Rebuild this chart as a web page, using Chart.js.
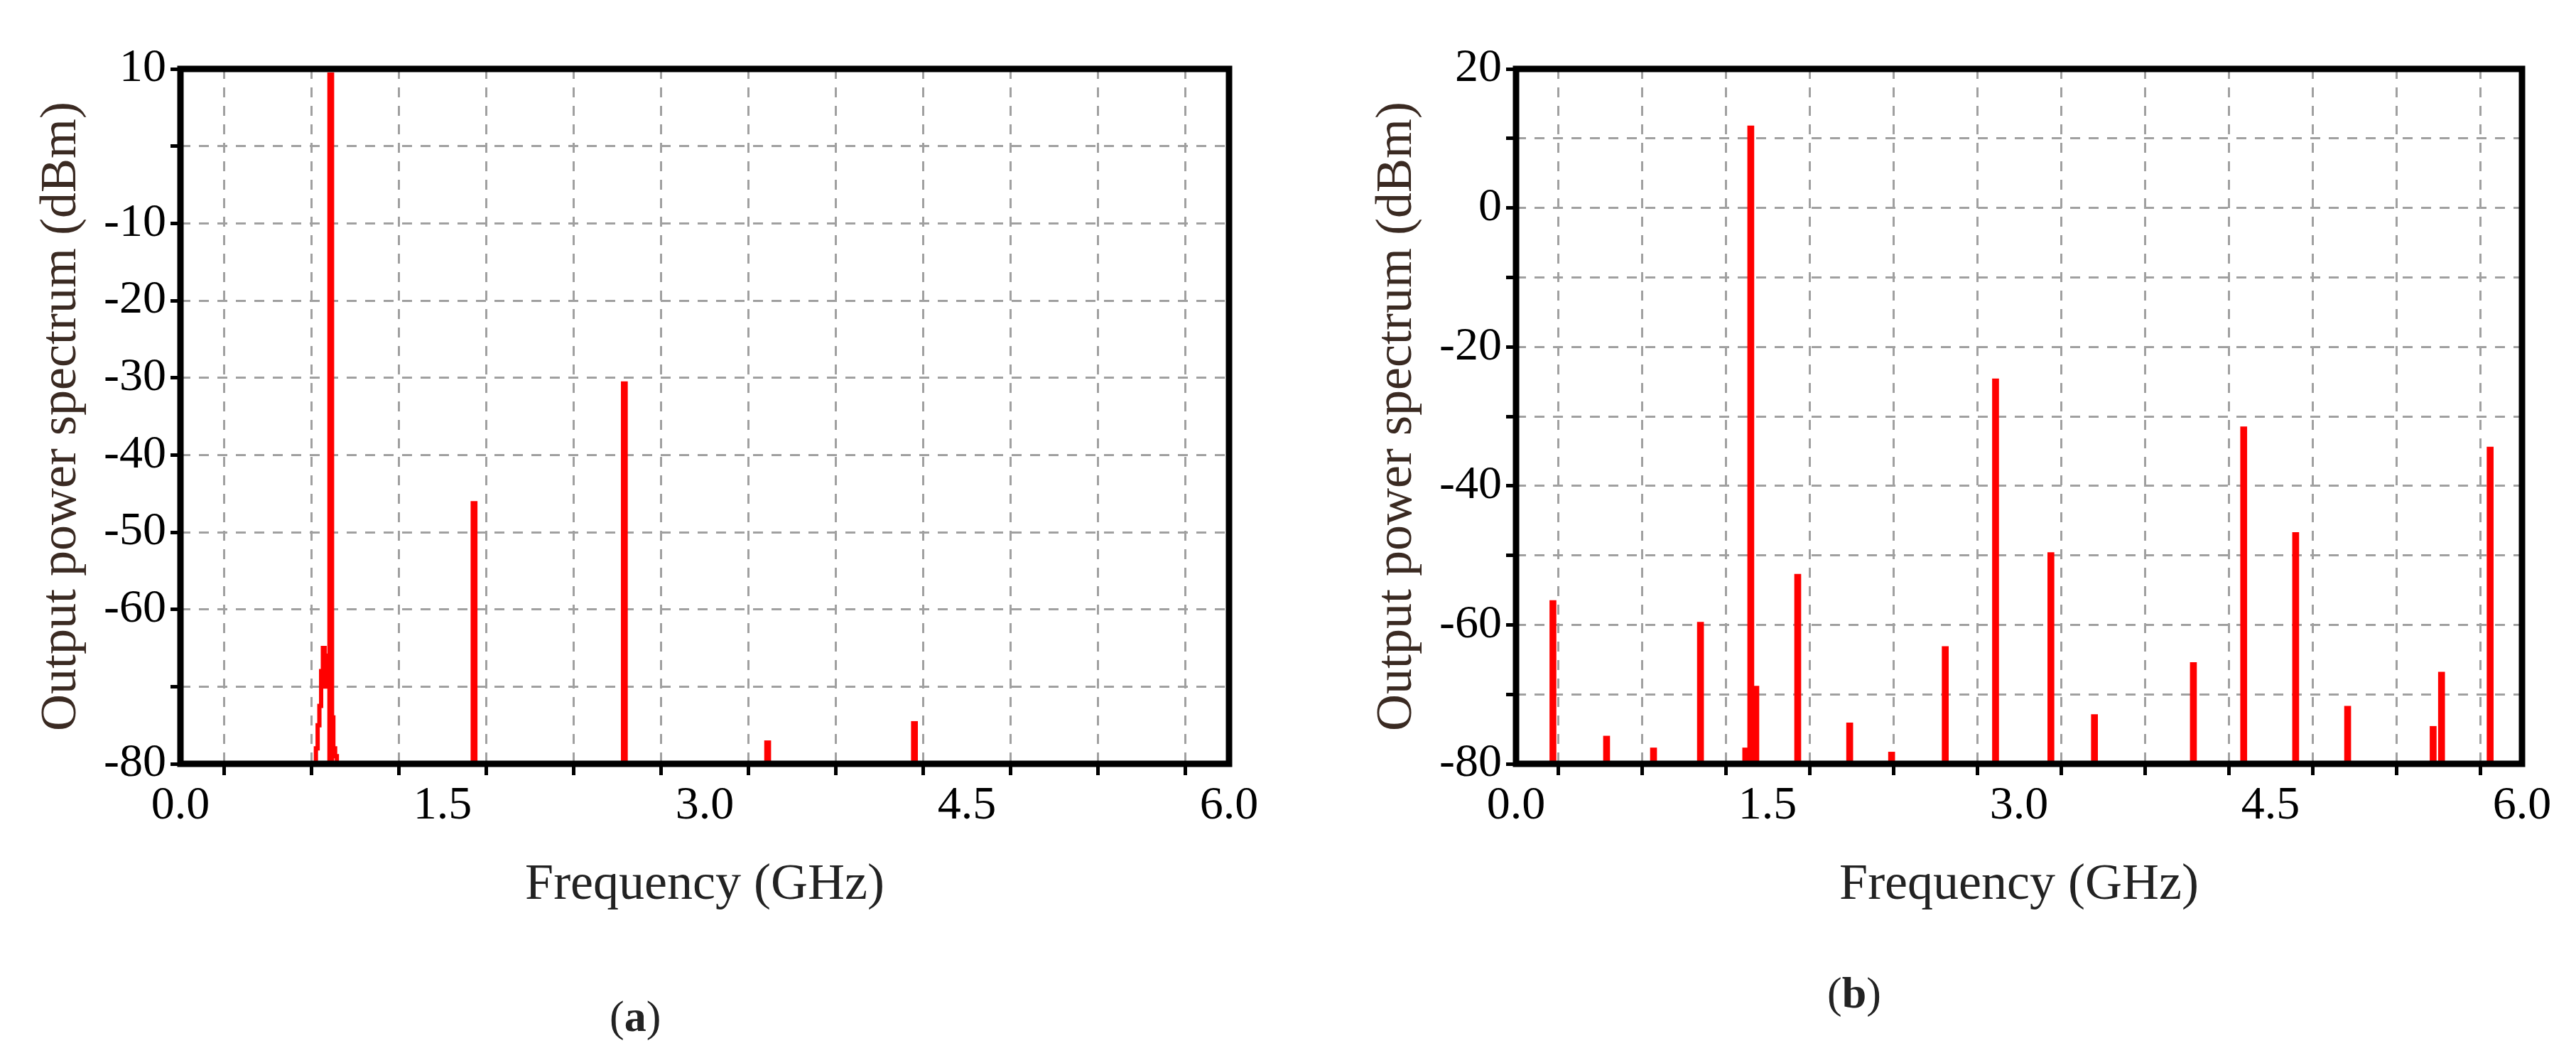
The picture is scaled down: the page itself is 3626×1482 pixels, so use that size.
<!DOCTYPE html>
<html><head><meta charset="utf-8">
<script src="https://cdn.jsdelivr.net/npm/chart.js@4"></script>
<style>
body{margin:0;background:#fff;width:3626px;height:1482px;overflow:hidden;position:relative;font-family:"Liberation Serif","DejaVu Serif",serif}
canvas{position:absolute}
.cap{position:absolute;font-size:62px;color:#222;font-family:"Liberation Serif",serif}
</style></head><body>
<canvas id="ca" style="left:0;top:40px"></canvas>
<canvas id="cb" style="left:1880px;top:40px"></canvas>
<div class="cap" style="left:858px;top:1395px">(<b>a</b>)</div>
<div class="cap" style="left:2572px;top:1362px">(<b>b</b>)</div>
<script>
// Panel (a)
const freqA = [0.86, 1.68, 2.54, 3.36, 4.20];
const powerA = [9.5, -46, -30.5, -77, -74.5];
const clusterFreqA = [0.77, 0.78, 0.79, 0.80, 0.81, 0.82, 0.83, 0.84, 0.85, 0.86, 0.87, 0.88, 0.89, 0.90, 0.91];
const clusterPowerA = [-80, -78, -75, -72.5, -68, -65, -70, -66, -67, -70, -74, -78, -79, -80, -80];
// Panel (b)
const freqB = [0.22, 0.54, 0.82, 1.10, 1.37, 1.40, 1.43, 1.68, 1.99, 2.24, 2.56, 2.86, 3.19, 3.45, 4.04, 4.34, 4.65, 4.96, 5.47, 5.52, 5.81];
const powerB = [-56.5, -76, -77.7, -59.6, -77.7, 11.8, -68.8, -52.7, -74.1, -78.3, -63.1, -24.6, -49.6, -72.9, -65.4, -31.5, -46.7, -71.7, -74.6, -66.8, -34.4];
const xTickLabels = ['0.0', '1.5', '3.0', '4.5', '6.0'];
const yLabelsA = [10, -10, -20, -30, -40, -50, -60, -80];
const yLabelsB = [20, 0, -20, -40, -60, -80];

const RED = '#ff0000';
const FONT = "'Liberation Serif','DejaVu Serif',serif";

const framePlugin = {
  id: 'frame',
  afterDraw(chart) {
    const {ctx, chartArea: a} = chart;
    ctx.save();
    ctx.strokeStyle = '#000';
    ctx.lineWidth = 9;
    ctx.strokeRect(a.left, a.top, a.right - a.left, a.bottom - a.top);
    ctx.restore();
  }
};

function makeChart(id, w, h, pad, yMin, yMax, yLabels, bars, line) {
  const cv = document.getElementById(id);
  cv.width = w; cv.height = h;
  const datasets = [{
    type: 'bar',
    data: bars.x.map((x, i) => ({x: x, y: [yMin, bars.y[i]]})),
    backgroundColor: RED,
    barThickness: 9,
    grouped: false
  }];
  if (line) datasets.push({
    type: 'line',
    data: line.x.map((x, i) => ({x: x, y: line.y[i]})),
    borderColor: RED, borderWidth: 6, pointRadius: 0, tension: 0, stepped: 'middle'
  });
  return new Chart(cv, {
    type: 'bar',
    data: {datasets},
    plugins: [framePlugin],
    options: {
      responsive: false, animation: false,
      layout: {padding: pad},
      plugins: {legend: {display: false}, tooltip: {enabled: false}},
      scales: {
        x: {
          type: 'linear', min: 0, max: 6, offset: false,
          afterFit(s) { s.height = 214; },
          ticks: {stepSize: 0.5, color: '#000', font: {family: FONT, size: 66}, padding: 4, maxRotation: 0, autoSkip: false,
            callback: v => { const l = v.toFixed(1); return xTickLabels.includes(l) ? l : ''; }},
          grid: {color: '#a0a0a0', lineWidth: 3, tickLength: 16, tickColor: '#000', tickWidth: 5},
          border: {display: false, dash: [14, 12]},
          title: {display: true, text: 'Frequency (GHz)', color: '#222', font: {family: FONT, size: 72}, padding: {top: 0, bottom: 0}}
        },
        y: {
          min: yMin, max: yMax,
          afterFit(s) { s.width = 254 - pad.left; },
          ticks: {stepSize: 10, color: '#000', font: {family: FONT, size: 66}, padding: 6,
            callback: v => yLabels.includes(v) ? String(v) : ''},
          grid: {color: '#a0a0a0', lineWidth: 3, tickLength: 14, tickColor: '#000', tickWidth: 5},
          border: {display: false, dash: [14, 12]},
          title: {display: true, text: 'Output power spectrum (dBm)', color: '#3a2a22', font: {family: FONT, size: 72}, padding: {bottom: 0}}
        }
      }
    }
  });
}

makeChart('ca', 1800, 1300, {left: 40, right: 70, top: 57, bottom: 51}, -80, 10, yLabelsA,
  {x: freqA, y: powerA}, {x: clusterFreqA, y: clusterPowerA});
makeChart('cb', 1746, 1300, {left: 40, right: 76, top: 57, bottom: 51}, -80, 20, yLabelsB,
  {x: freqB, y: powerB}, null);
</script>
</body></html>
